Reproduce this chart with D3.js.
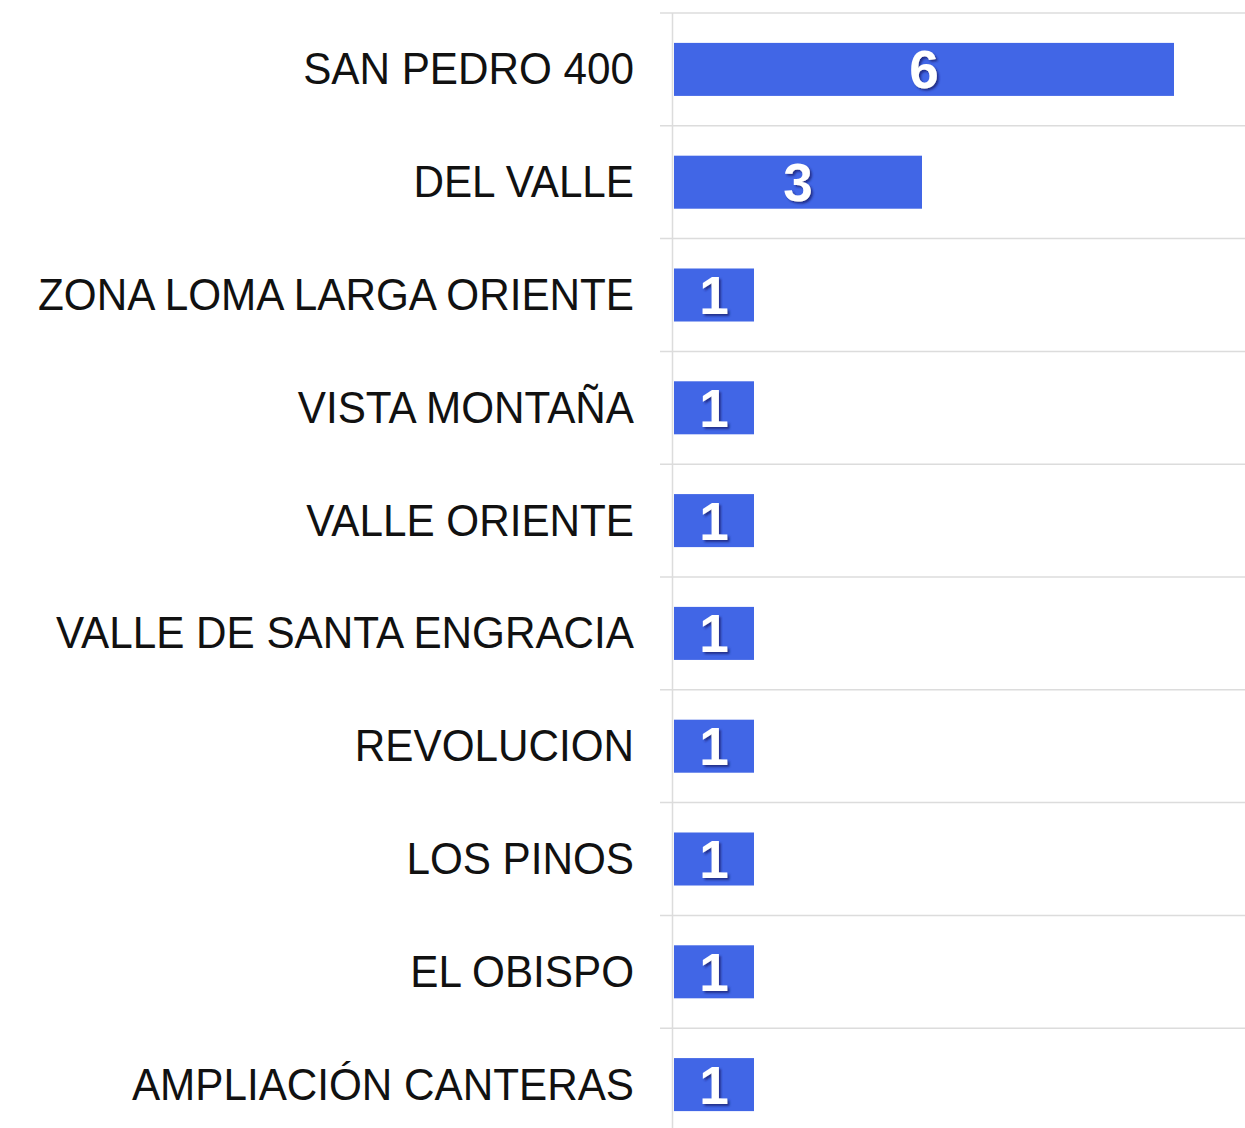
<!DOCTYPE html>
<html>
<head>
<meta charset="utf-8">
<script src="https://cdn.jsdelivr.net/npm/d3@7"></script>
<style>
  body { margin: 0; background: #fff; }
  svg { display: block; }
</style>
</head>
<body>
<svg id="chart" width="1245" height="1128"></svg>
<script>
// colonias and their counts
var categories = ["SAN PEDRO 400", "DEL VALLE", "ZONA LOMA LARGA ORIENTE", "VISTA MONTAÑA",
                  "VALLE ORIENTE", "VALLE DE SANTA ENGRACIA", "REVOLUCION", "LOS PINOS",
                  "EL OBISPO", "AMPLIACIÓN CANTERAS"];
var values = [6, 3, 1, 1, 1, 1, 1, 1, 1, 1];

var svg = d3.select("#chart");
var width = 1245;
var barStart = 674;

// plot area runs past the bottom edge, last row is cut off like the original
var x = d3.scaleLinear().domain([0, 6]).range([670, 1174]);
var y = d3.scaleBand().domain(categories).range([13, 1141]).paddingInner(0.53).paddingOuter(0.265);

// drop shadow for the value labels
var defs = svg.append("defs");
var f = defs.append("filter").attr("id", "shadow").attr("x", "-20%").attr("y", "-20%")
    .attr("width", "150%").attr("height", "150%");
f.append("feDropShadow").attr("dx", 2).attr("dy", 2).attr("stdDeviation", 1)
    .attr("flood-color", "#1a2a80").attr("flood-opacity", 0.9);

// horizontal grid lines at band boundaries
var step = y.step();
var bounds = categories.map(function(c) { return y(c) - y.paddingOuter() * step; });
svg.selectAll(".grid")
  .data(bounds)
  .enter()
  .append("line")
  .attr("class", "grid")
  .attr("x1", 660).attr("x2", width)
  .attr("y1", function(d) { return d; })
  .attr("y2", function(d) { return d; })
  .style("stroke", "#dcdcdc")
  .style("stroke-width", 1.5);

// vertical axis line
svg.append("line")
  .attr("x1", 672.5).attr("x2", 672.5)
  .attr("y1", 13).attr("y2", 1128)
  .style("stroke", "#dcdcdc")
  .style("stroke-width", 1.5);

// bars
svg.selectAll(".bar")
  .data(values)
  .enter()
  .append("rect")
  .attr("class", "bar")
  .attr("x", barStart)
  .attr("y", function(d, i) { return y(categories[i]); })
  .attr("width", function(d) { return x(d) - barStart; })
  .attr("height", y.bandwidth())
  .style("fill", "#4166e6");

// category labels
svg.selectAll(".cat")
  .data(categories)
  .enter()
  .append("text")
  .attr("class", "cat")
  .attr("transform", function(d) {
    return "translate(634," + (y(d) + y.bandwidth() / 2) + ")scale(0.96,1)";
  })
  .attr("dy", "0.34em")
  .attr("text-anchor", "end")
  .style("font-family", "'Liberation Sans', Arial, sans-serif")
  .style("font-size", "44px")
  .style("fill", "#111")
  .text(function(d) { return d; });

// value labels inside the bars
svg.selectAll(".val")
  .data(values)
  .enter()
  .append("text")
  .attr("class", "val")
  .attr("x", function(d) { return (barStart + x(d)) / 2; })
  .attr("y", function(d, i) { return y(categories[i]) + y.bandwidth() / 2; })
  .attr("dy", "0.36em")
  .attr("text-anchor", "middle")
  .attr("filter", "url(#shadow)")
  .style("font-family", "'Liberation Sans', Arial, sans-serif")
  .style("font-weight", "bold")
  .style("font-size", "53px")
  .style("fill", "#fff")
  .text(function(d) { return d; });
</script>
</body>
</html>
